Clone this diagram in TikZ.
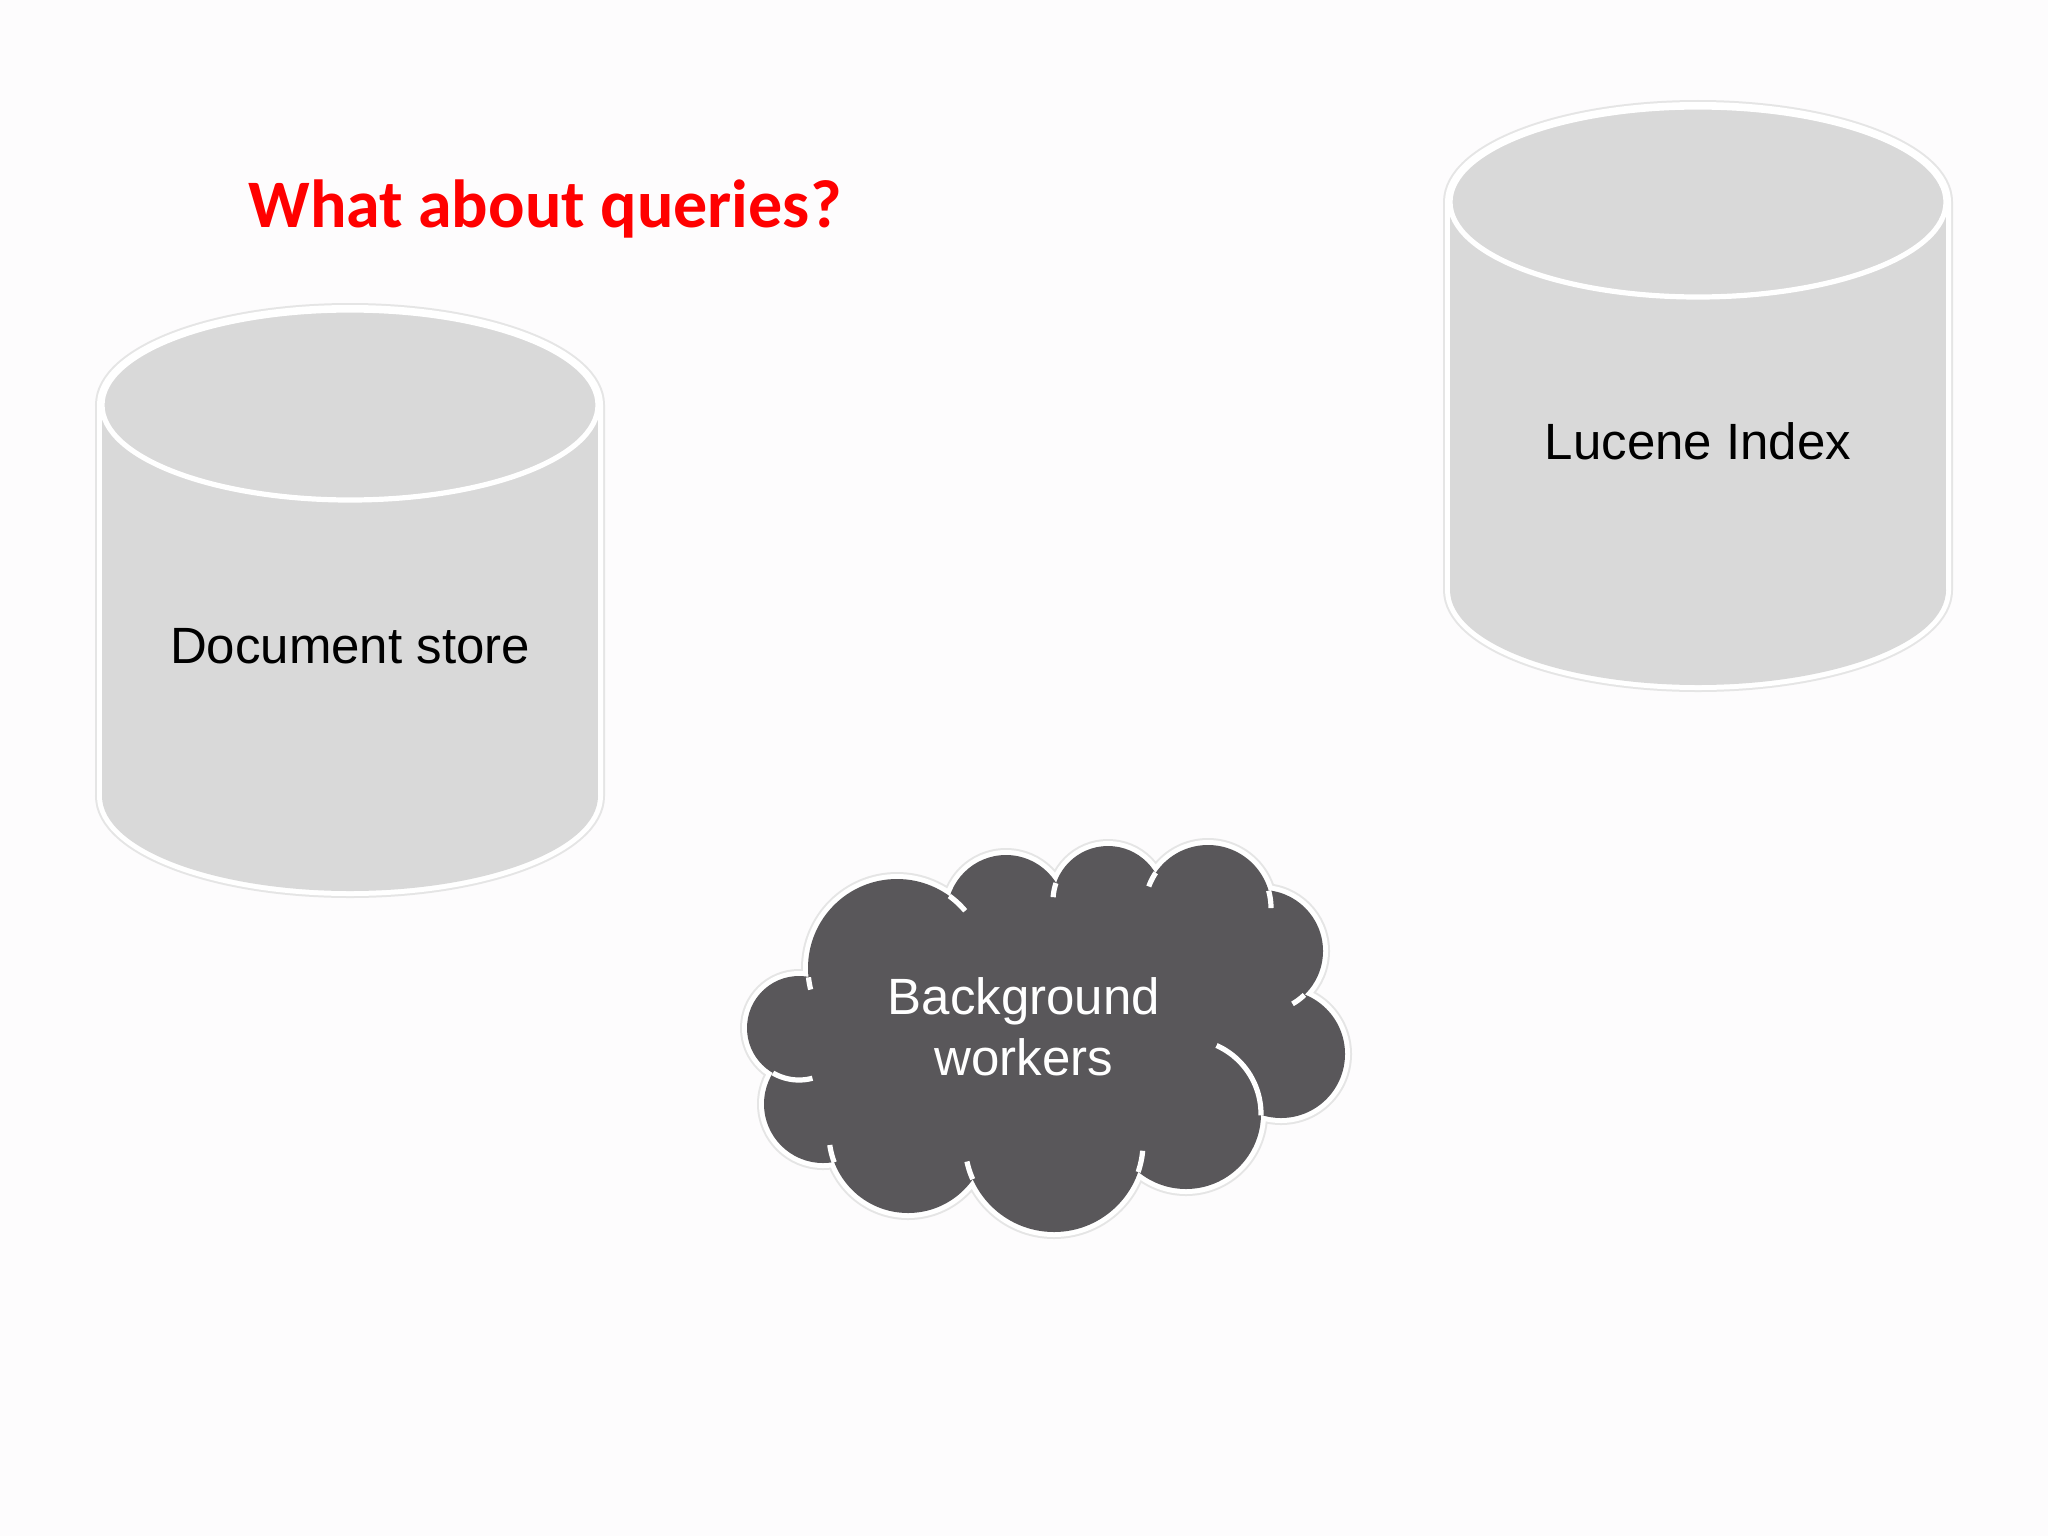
\documentclass[tikz,border=0pt]{standalone}
\usepackage{fontspec}
\setmainfont{Liberation Sans}
\newfontfamily\titlefont{Carlito}
\definecolor{bgcol}{RGB}{253,252,253}
\definecolor{cylgray}{RGB}{217,217,217}
\definecolor{cloudgray}{RGB}{89,87,90}
\definecolor{titlered}{RGB}{255,0,0}
\newcommand{\dbcyl}[3]{% #1 centre x, #2 top ellipse centre y, #3 bottom ellipse centre y
  \draw[shadowline] (#1-248,#2) -- (#1-248,#3) (#1+248,#2) -- (#1+248,#3)
    (#1,#3) ellipse[x radius=248,y radius=95] (#1,#2) ellipse[x radius=248,y radius=95];
  \draw[outline] (#1-248,#2) -- (#1-248,#3) (#1+248,#2) -- (#1+248,#3)
    (#1,#3) ellipse[x radius=248,y radius=95] (#1,#2) ellipse[x radius=248,y radius=95];
  \fill[cylgray] (#1-248,#2) rectangle (#1+248,#3);
  \fill[cylgray] (#1,#3) ellipse[x radius=248,y radius=95];
  \fill[cylgray] (#1,#2) ellipse[x radius=248,y radius=95];
  \draw[rim] (#1,#2) ellipse[x radius=248,y radius=95];
}
\begin{document}
\begin{tikzpicture}[x=0.5pt,y=-0.5pt,
  shadowline/.style={draw=black!10,line width=7pt},
  outline/.style={draw=white,line width=5pt},
  rim/.style={draw=white,line width=2.6pt},
  stub/.style={draw=white,line width=2.6pt,line cap=butt},
  lbl/.style={inner sep=0pt,font=\fontsize{25.5pt}{30.5pt}\selectfont},
  titlestyle/.style={inner sep=0pt,text=titlered,font=\titlefont\bfseries\fontsize{34pt}{40pt}\selectfont}]
\useasboundingbox (0,0) rectangle (2048,1536);
\fill[bgcol] (0,0) rectangle (2048,1536);

% title
\node[titlestyle,anchor=base west] (title) at (248,227) {What about queries?};

% cylinders
\dbcyl{350}{405}{796}
\dbcyl{1698}{202}{590}
\node[lbl,anchor=base] (docstore) at (350,663) {Document store};
\node[lbl,anchor=base] (lucene) at (1698,459) {Lucene Index};

% cloud
\def\puffs{897/968/89, 1006/914/59, 1108/901/55, 1208/908/63, 1262/951/61, 1281/1054/64, 1186/1114/75, 1054/1143/89, 908/1134/79, 823/1104/59, 799/1028/52}
\draw[shadowline] \foreach \px/\py/\pr in \puffs {(\px,\py) circle[radius=\pr]};
\draw[outline] \foreach \px/\py/\pr in \puffs {(\px,\py) circle[radius=\pr]};
\fill[cloudgray] \foreach \px/\py/\pr in \puffs {(\px,\py) circle[radius=\pr]};
\fill[cloudgray] (897,968) -- (1006,914) -- (1108,901) -- (1208,908) -- (1262,951) -- (1281,1054)
  -- (1186,1114) -- (1054,1143) -- (908,1134) -- (823,1104) -- (799,1028) -- cycle;
\foreach \cx/\cy/\cr/\aa/\ab in {897/968/89/-54/-40, 1108/901/55/184/199, 1208/908/63/200/214,
  1208/908/63/-16/0, 1262/951/61/46/60, 1186/1114/75/-66/1, 1054/1143/89/5/19,
  1054/1143/89/156/168, 908/1134/79/159/172, 799/1028/52/75/120, 897/968/89/166/174}
  \draw[stub] plot[domain=\aa:\ab,samples=24] ({\cx+\cr*cos(\x)},{\cy+\cr*sin(\x)});
\node[lbl,text=white,align=center] (workers) at (1024,1027) {Background\\workers};
\end{tikzpicture}
\end{document}
